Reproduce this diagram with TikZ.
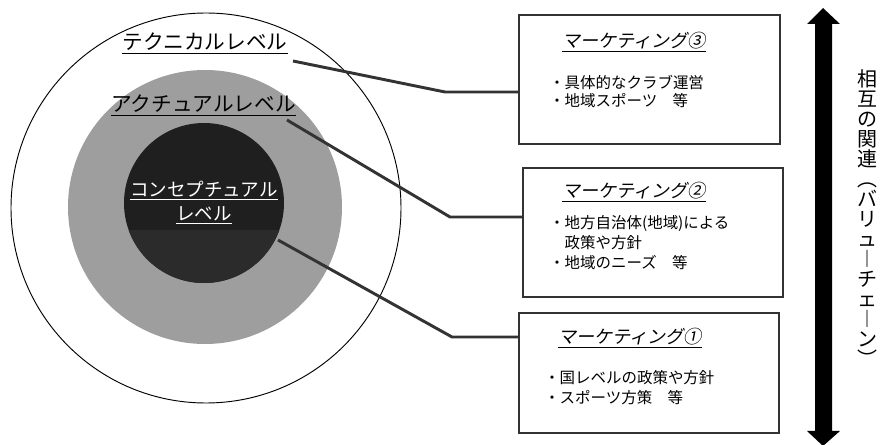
\documentclass[tikz,border=0pt]{standalone}
\usepackage{fontspec}
\setmainfont{Noto Sans CJK JP}
\newfontfamily\jpit[FakeSlant=0.2]{Noto Sans CJK JP}
\begin{document}
\begin{tikzpicture}[x=0.75pt,y=-0.75pt,
  ring/.style={circle, inner sep=0pt, outer sep=0pt},
  lvl/.style={inner sep=0pt, anchor=base, font=\fontsize{15.5}{18}\selectfont},
  clvl/.style={inner sep=0pt, anchor=base, text=white, font=\fontsize{13.9}{18}\selectfont},
  mbox/.style={draw=black!80, line width=2.2pt, fill=white, inner sep=0pt, outer sep=0pt},
  conn/.style={draw=black!80, line width=2.2pt, line join=round},
  ttl/.style={inner sep=0pt, anchor=base west, font=\jpit\fontsize{13.6}{16}\selectfont},
  bul/.style={inner sep=0pt, anchor=west, align=left},
  vtext/.style={inner sep=0pt, align=center, font=\fontsize{15}{15}\selectfont}]
\useasboundingbox (0,0) rectangle (883,445);

% circles
\node[ring, draw=black, line width=0.7pt, fill=white, minimum size=292.5pt] (outer) at (206,208) {};
\node[ring, fill=black!38, minimum size=205.5pt] (actual) at (205,207) {};
\node[ring, fill=black!88, minimum size=120pt,
  path picture={\fill[black!83] (path picture bounding box.south west) rectangle ([yshift=-20.25pt]path picture bounding box.east);}] (concept) at (204,203) {};

% level labels
\node[lvl] (tech) at (205,50) {\underline{テクニカルレベル}};
\node[lvl] (act) at (203.5,112) {\underline{アクチュアルレベル}};
\node[clvl] (con1) at (204,197) {\underline{コンセプチュアル}};
\node[clvl] (con2) at (204,221) {\underline{レベル}};

% boxes
\node[mbox, minimum width=195.75pt, minimum height=96.75pt] (b3) at (649.5,79.5) {};
\node[mbox, minimum width=195pt, minimum height=96.75pt] (b2) at (653,232.5) {};
\node[mbox, minimum width=195pt, minimum height=90pt] (b1) at (649,373) {};

% connectors
\coordinate (s1) at (293,61);  \coordinate (k1) at (445,92);
\coordinate (s2) at (287,120); \coordinate (k2) at (450,217);
\coordinate (s3) at (278,240); \coordinate (k3) at (452,337);
\draw[conn] (s1) -- (k1) -- (k1 -| b3.west);
\draw[conn] (s2) -- (k2) -- (k2 -| b2.west);
\draw[conn] (s3) -- (k3) -- (k3 -| b1.west);

% box texts
\node[ttl] (t3) at (562,48) {\underline{マーケティング③}};
\node[bul, font=\fontsize{11.6}{13.5}\selectfont] (l3) at (549,91) {・具体的なクラブ運営\\・地域スポーツ　等};
\node[ttl] (t2) at (562,198) {\underline{マーケティング②}};
\node[bul, font=\fontsize{11.6}{15}\selectfont] (l2) at (549,243) {・地方自治体(地域)による\\\phantom{・}政策や方針\\・地域のニーズ　等};
\node[ttl] (t1) at (558,344) {\underline{マーケティング①}};
\node[bul, font=\fontsize{11.6}{15}\selectfont] (l1) at (544,388) {・国レベルの政策や方針\\・スポーツ方策　等};

% double arrow
\fill[black] (823,8) -- (840,24) -- (832,24) -- (832,431) -- (840,431) -- (823,446)
  -- (807,431) -- (815,431) -- (815,24) -- (807,24) -- cycle;

% vertical text
\node[vtext] (vt) at (867,218) {相\\互\\の\\関\\連\\︵\\バ\\リ\\ュ\\︱\\チ\\ェ\\︱\\ン\\︶};
\end{tikzpicture}
\end{document}
